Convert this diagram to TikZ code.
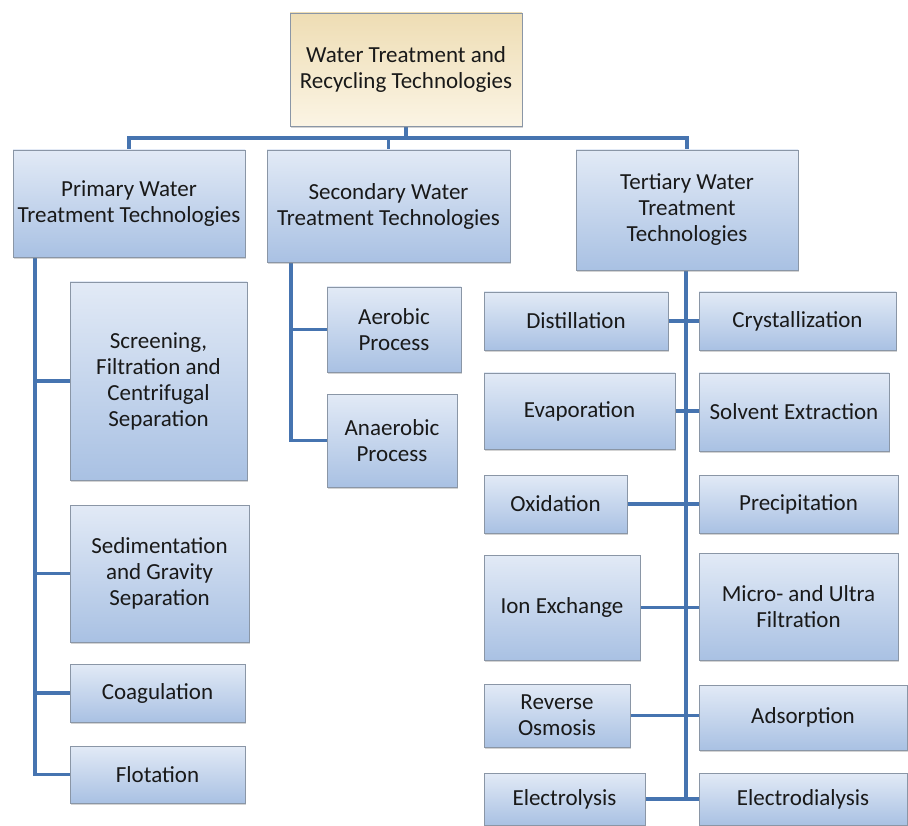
\documentclass[tikz,border=0pt]{standalone}
\usepackage{fontspec}
\setmainfont{Carlito}
\usetikzlibrary{shadows,backgrounds}
\definecolor{btop}{HTML}{E2EAF6}
\definecolor{bbot}{HTML}{A9C1E3}
\definecolor{ttop}{HTML}{EEDDB4}
\definecolor{tbot}{HTML}{FBF4E4}
\definecolor{edge}{HTML}{8A96A6}
\definecolor{conn}{HTML}{4674B0}
\tikzset{
  boxbase/.style={draw=edge, line width=0.8pt, align=center, inner sep=1pt,
    font=\fontsize{23}{26}\selectfont, text=black!90,
    drop shadow={opacity=0.35, shadow xshift=0.8pt, shadow yshift=-1.6pt}},
  bluebox/.style={boxbase, top color=btop, bottom color=bbot},
  tanbox/.style={boxbase, top color=ttop, bottom color=tbot},
  link/.style={draw=conn, line width=3.6pt},
}
\newcommand{\bx}[7]{% style,name,x1,y1,x2,y2,text
  \node[#1, minimum width={(#5-#3)*1pt}, minimum height={(#6-#4)*1pt}]
    (#2) at ({(#3+#5)/2},{(#4+#6)/2}) {#7};}
\begin{document}
\begin{tikzpicture}[x=1pt,y=-1pt]
\useasboundingbox (0,0) rectangle (908,826);
% boxes
\bx{tanbox}{top}{290}{13}{522}{126}{Water Treatment and\\Recycling Technologies}
\bx{bluebox}{prim}{13}{150}{245}{257}{Primary Water\\Treatment Technologies}
\bx{bluebox}{sec}{267}{150}{510}{262}{Secondary Water\\Treatment Technologies}
\bx{bluebox}{ter}{576}{150}{798}{270}{Tertiary Water\\Treatment\\Technologies}
\bx{bluebox}{screen}{70}{282}{247}{480}{Screening,\\Filtration and\\Centrifugal\\Separation}
\bx{bluebox}{sedim}{70}{505}{249}{642}{Sedimentation\\and Gravity\\Separation}
\bx{bluebox}{coag}{70}{664}{245}{722}{Coagulation}
\bx{bluebox}{flot}{70}{746}{245}{803}{Flotation}
\bx{bluebox}{aer}{327}{287}{461}{372}{Aerobic\\Process}
\bx{bluebox}{anaer}{327}{394}{457}{487}{Anaerobic\\Process}
\bx{bluebox}{dist}{484}{292}{668}{350}{Distillation}
\bx{bluebox}{cryst}{699}{292}{896}{350}{Crystallization}
\bx{bluebox}{evap}{484}{373}{675}{449}{Evaporation}
\bx{bluebox}{solv}{699}{373}{889}{451}{Solvent Extraction}
\bx{bluebox}{oxid}{484}{475}{627}{533}{Oxidation}
\bx{bluebox}{precip}{699}{475}{898}{533}{Precipitation}
\bx{bluebox}{ion}{484}{555}{640}{660}{Ion Exchange}
\bx{bluebox}{micro}{699}{553}{898}{660}{Micro- and Ultra\\Filtration}
\bx{bluebox}{rev}{484}{684}{630}{747}{Reverse\\Osmosis}
\bx{bluebox}{ads}{699}{685}{907}{750}{Adsorption}
\bx{bluebox}{elys}{484}{773}{645}{825}{Electrolysis}
\bx{bluebox}{edial}{699}{773}{907}{825}{Electrodialysis}
% connectors
\begin{scope}[on background layer]
\coordinate (bus) at (406,138);
\coordinate (pt) at (35,257);
\coordinate (st) at (291,262);
\coordinate (tt) at (686,270);
\draw[link] (top.south) -- (bus);
\draw[link] (prim.north) |- (bus) -| (ter.north);
\draw[link] (sec.north) -- (sec.north |- bus);
% primary trunk
\draw[link] (pt) |- (flot.west);
\draw[link] (pt |- screen.west) -- (screen.west);
\draw[link] (pt |- sedim.west) -- (sedim.west);
\draw[link] (pt |- coag.west) -- (coag.west);
% secondary trunk
\draw[link] (st) |- (anaer.west);
\draw[link] (st |- aer.west) -- (aer.west);
% tertiary trunk
\draw[link] (tt) -- (tt |- elys.east);
\draw[link] (dist.east) -- (dist.east -| cryst.west);
\draw[link] (evap.east) -- (evap.east -| solv.west);
\draw[link] (oxid.east) -- (oxid.east -| precip.west);
\draw[link] (ion.east) -- (ion.east -| micro.west);
\draw[link] (rev.east) -- (rev.east -| ads.west);
\draw[link] (elys.east) -- (elys.east -| edial.west);
\end{scope}
\end{tikzpicture}
\end{document}
